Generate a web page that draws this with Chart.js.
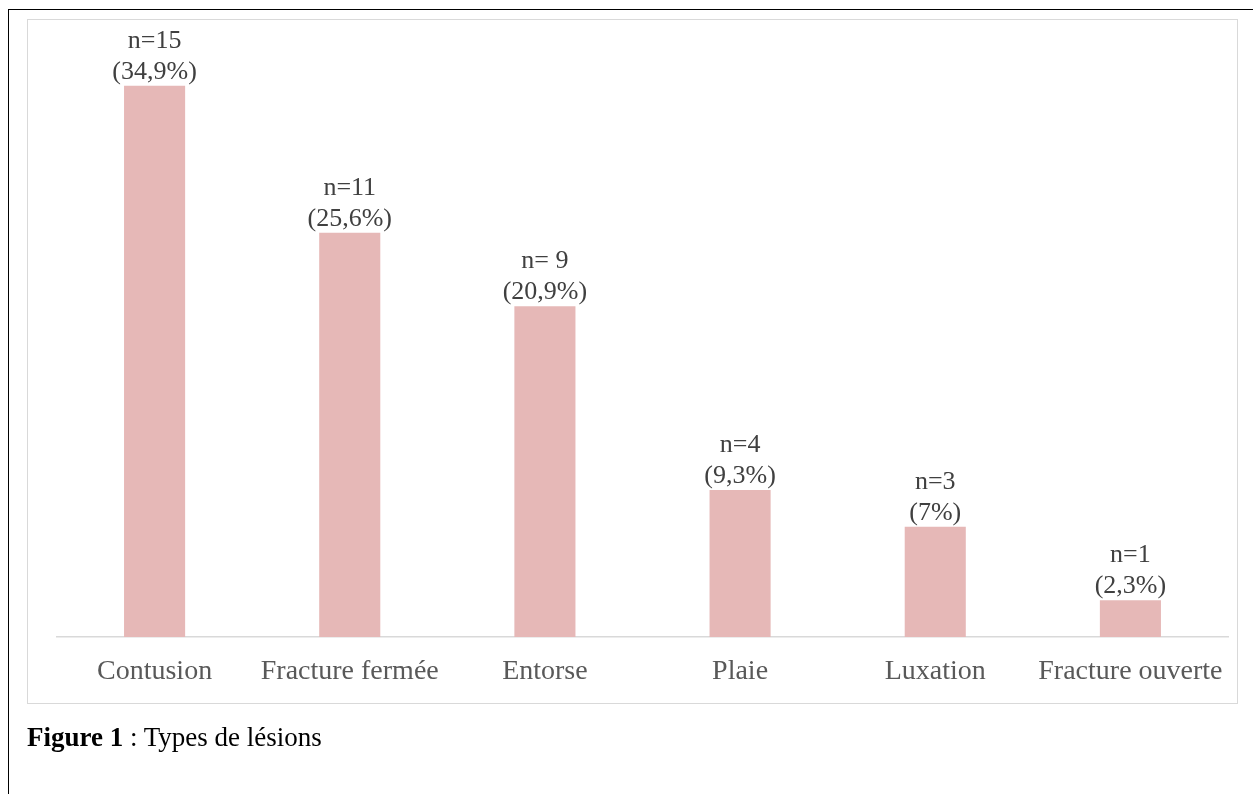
<!DOCTYPE html>
<html>
<head>
<meta charset="utf-8">
<script src="https://cdn.jsdelivr.net/npm/chart.js@4"></script>
<style>
html,body{margin:0;padding:0;background:#fff;width:1253px;height:794px;overflow:hidden;}
#outer{position:absolute;left:8px;top:9px;width:1260px;height:800px;border-left:1.5px solid #000;border-top:1.5px solid #000;}
#frame{position:absolute;left:27px;top:19px;width:1209px;height:683px;border:1.5px solid #d9d9d9;}
#wrap{position:absolute;left:0;top:0;width:1253px;height:794px;}
#caption{position:absolute;left:27px;top:722px;font-family:"Liberation Serif","Times New Roman",serif;font-size:27px;line-height:31px;color:#000;white-space:nowrap;}
</style>
</head>
<body>
<div id="outer"></div>
<div id="frame"></div>
<div id="wrap"><canvas id="c" width="1253" height="794"></canvas></div>
<div id="caption"><b>Figure 1</b> : Types de lésions</div>
<script>
const categories = ["Contusion", "Fracture fermée", "Entorse", "Plaie", "Luxation", "Fracture ouverte"];
const counts = [15, 11, 9, 4, 3, 1];
const countLabels = ["n=15", "n=11", "n= 9", "n=4", "n=3", "n=1"];
const percentLabels = ["(34,9%)", "(25,6%)", "(20,9%)", "(9,3%)", "(7%)", "(2,3%)"];

const labelPlugin = {
  id: 'barLabels',
  afterDatasetsDraw(chart) {
    const ctx = chart.ctx;
    const meta = chart.getDatasetMeta(0);
    ctx.save();
    ctx.font = '26px "Liberation Serif", "Times New Roman", serif';
    ctx.fillStyle = '#404040';
    ctx.textAlign = 'center';
    ctx.textBaseline = 'alphabetic';
    meta.data.forEach((bar, i) => {
      ctx.fillText(percentLabels[i], bar.x, bar.y - 7);
      ctx.fillText(countLabels[i], bar.x, bar.y - 38);
    });
    ctx.restore();
  }
};

new Chart(document.getElementById('c'), {
  type: 'bar',
  data: {
    labels: categories,
    datasets: [{
      data: counts,
      backgroundColor: '#E6B8B7',
      borderWidth: 0,
      categoryPercentage: 1,
      barPercentage: 0.313
    }]
  },
  options: {
    responsive: false,
    animation: false,
    layout: { padding: { left: 57, right: 25, top: 49, bottom: 97 } },
    plugins: { legend: { display: false }, tooltip: { enabled: false } },
    scales: {
      y: { display: false, min: 0, max: 16 },
      x: {
        grid: { display: false },
        border: { display: true, color: '#d9d9d9', width: 1.5 },
        ticks: {
          color: '#595959',
          font: { family: '"Liberation Serif", "Times New Roman", serif', size: 28 },
          padding: 10,
          maxRotation: 0,
          autoSkip: false
        },
        afterFit(scale) { scale.height = 60; }
      }
    }
  },
  plugins: [labelPlugin]
});
</script>
</body>
</html>
